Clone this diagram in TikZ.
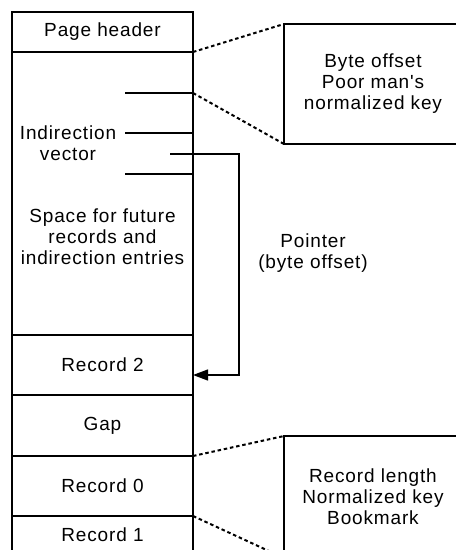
\documentclass[tikz,border=0pt]{standalone}
\usepackage{fontspec}
\newfontfamily\labelfont{Liberation Sans}[LetterSpace=4.5]
\usetikzlibrary{arrows.meta}

\tikzset{
  txt/.style={font=\labelfont\fontsize{19}{21}\selectfont, align=center, inner sep=0pt},
  block/.style={txt, draw, line width=1.4pt, outer sep=0pt, minimum width=181pt,
                anchor=north west},
  infobox/.style={txt, draw, line width=1.4pt, outer sep=0pt, minimum width=178pt,
                  anchor=north west},
  tick/.style={line width=1.3pt},
  dashline/.style={line width=2pt, dash pattern=on 3.5pt off 2.8pt},
  pointer/.style={line width=1.3pt, -{Triangle[length=15pt,width=11pt]}}
}

\begin{document}
\begin{tikzpicture}[x=1pt, y=-1pt]
  \useasboundingbox (0,0) rectangle (456,550);
  \clip (0,0) rectangle (456,550);

  % page layout column
  \node[block, minimum height=40pt]  (hdr)  at (12,12)  {Page header};
  \node[block, minimum height=283pt] (ind)  at (12,52)  {};
  \node[block, minimum height=60pt]  (rec2) at (12,335) {Record 2};
  \node[block, minimum height=61pt]  (gap)  at (12,395) {Gap};
  \node[block, minimum height=60pt]  (rec0) at (12,456) {Record 0};
  \node[block, minimum height=38pt]  (rec1) at (12,516) {Record 1};

  % labels inside the free area
  \node[txt] (indlbl) at (68,143) {Indirection\\vector};
  \node[txt] (spacelbl) at (102.5,237) {Space for future\\records and\\indirection entries};

  % indirection vector entries
  \coordinate (e1a) at (125,93);  \coordinate (e1b) at (193,93);
  \coordinate (e2a) at (125,133); \coordinate (e2b) at (193,133);
  \coordinate (e4a) at (125,174); \coordinate (e4b) at (193,174);
  \draw[tick] (e1a) -- (e1b);
  \draw[tick] (e2a) -- (e2b);
  \draw[tick] (e4a) -- (e4b);

  % pointer from an entry to record 2
  \coordinate (pstart) at (170,154);
  \coordinate (pcorner) at (239,154);
  \coordinate (ptip) at (193,375);
  \draw[pointer] (pstart) -- (pcorner) |- (ptip);
  \node[txt] (ptrlbl) at (313,253) {Pointer\\(byte offset)};

  % detail boxes
  \node[infobox, minimum height=120pt] (slotinfo) at (284,24)
    {Byte offset\\Poor man's\\normalized key};
  \node[infobox, minimum height=122pt] (recinfo) at (284,436)
    {Record length\\Normalized key\\Bookmark};

  \draw[dashline] (hdr.south east) -- (slotinfo.north west);
  \draw[dashline] (e1b) -- (slotinfo.south west);
  \draw[dashline] (gap.south east) -- (recinfo.north west);
  \draw[dashline] (rec0.south east) -- (recinfo.south west);
\end{tikzpicture}
\end{document}
